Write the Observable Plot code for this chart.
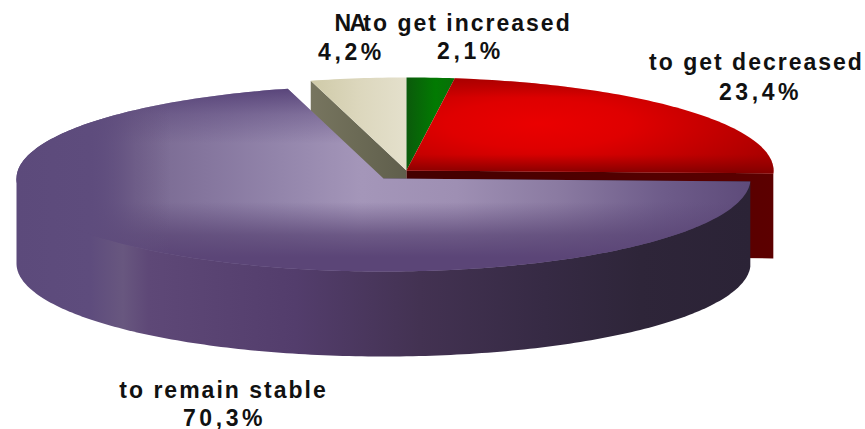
<!DOCTYPE html>
<html>
<head>
<meta charset="utf-8">
<script src="https://cdn.jsdelivr.net/npm/d3@7"></script>
<script src="https://cdn.jsdelivr.net/npm/@observablehq/plot@0.6"></script>
<style>
  html, body { margin: 0; padding: 0; background: #fff; }
  svg { display: block; }
</style>
</head>
<body>
<div id="chart"></div>
<script>
// Shares of the expected trend, clockwise from twelve o'clock.
const categories = ["to get increased", "to get decreased", "to remain stable", "NA"];
const shares = [2.1, 23.4, 70.3, 4.2];

// Ellipse of the tilted disc, in pixels of the plot's identity scales.
const rx = 367, ry = 93, depth = 85;
const upperCentre = {cx: 406, cy: 170};   // pulled-out group of three slices
const lowerCentre = {cx: 383, cy: 178};   // the large slice

const percentLabel = (v) => v.toFixed(1).replace(".", ",") + "%";

// Cumulative start and end angle of every slice, in degrees.
let running = 0;
const slices = categories.map((name, i) => {
  const start = running;
  running += (shares[i] / 100) * 360;
  return {name, value: shares[i], start, end: running};
});
const byName = Object.fromEntries(slices.map((s) => [s.name, s]));

const rim = (c, deg, drop = 0) => {
  const a = (deg * Math.PI) / 180;
  return {x: c.cx + rx * Math.sin(a), y: c.cy - ry * Math.cos(a) + drop};
};
const arc = (c, from, to, drop = 0) =>
  d3.range(0, 1.0001, 1 / Math.max(2, Math.ceil(Math.abs(to - from)))).map((t) => rim(c, from + (to - from) * t, drop));

// Flat top of a slice.
const sector = (c, s) => [{x: c.cx, y: c.cy}, ...arc(c, s.start, s.end)];
// Curved outer wall of a slice; it runs on under the top face so no seam shows.
const wall = (c, from, to) => [...arc(c, to, from, depth), rim(c, from), {x: c.cx, y: c.cy}, rim(c, to)];
// Straight cut face from the centre out to the rim.
const cut = (c, deg) => {
  const r = rim(c, deg);
  return [{x: c.cx, y: c.cy}, r, {x: r.x, y: r.y + depth}, {x: c.cx, y: c.cy + depth}];
};

const polygon = (points, fill) => Plot.line(points, {x: "x", y: "y", fill, stroke: "none"});

const stops = (list) => list.map(([o, c, a = 1]) => `<stop offset="${o}" stop-color="${c}" stop-opacity="${a}"/>`).join("");

// Shading of the disc's faces.
const gradients = () => d3.create("svg:defs").html(`
  <linearGradient id="purpleTop" x1="0" x2="1" y1="0" y2="0">${stops([
    [0, "#5c4a7b"], [0.1, "#604e80"], [0.16, "#77678f"], [0.26, "#85769e"], [0.36, "#9385ab"],
    [0.47, "#a496b9"], [0.6, "#9e8fb3"], [0.74, "#8a7aa1"], [0.88, "#6e5c8a"], [1, "#5e4b7a"]
  ])}</linearGradient>
  <linearGradient id="purpleShade" x1="0" x2="0" y1="0" y2="1">${stops([
    [0, "#4f3a72", 0.85], [0.14, "#4f3a72", 0.35], [0.3, "#4f3a72", 0], [0.62, "#5a4575", 0],
    [0.8, "#5a4575", 0.75], [0.92, "#5b4577", 1], [1, "#5b4577", 1]
  ])}</linearGradient>
  <linearGradient id="purpleEdge" x1="0" x2="1" y1="0" y2="0">${stops([
    [0, "#5c4a7b", 1], [0.1, "#5e4c7d", 1], [0.21, "#64527f", 0]
  ])}</linearGradient>
  <linearGradient id="purpleWall" x1="0" x2="1" y1="0" y2="0">${stops([
    [0, "#5c4a7b"], [0.1, "#5e4c7d"], [0.145, "#68577f"], [0.18, "#5e4877"], [0.38, "#533d6c"],
    [0.55, "#433252"], [0.72, "#362a44"], [0.85, "#2e2539"], [1, "#2b2336"]
  ])}</linearGradient>
  <radialGradient id="redTop" cx="0.36" cy="0.48" r="0.72">${stops([
    [0, "#ea0000"], [0.35, "#df0000"], [0.75, "#bd0000"], [1, "#a80000"]
  ])}</radialGradient>
  <linearGradient id="redShade" x1="0" x2="0" y1="0" y2="1">${stops([
    [0, "#900000", 0.45], [0.2, "#900000", 0], [0.8, "#900000", 0], [1, "#7a0000", 0.85]
  ])}</linearGradient>
  <linearGradient id="redCut" x1="0" x2="1" y1="0" y2="0">${stops([[0, "#430000"], [1, "#5c0000"]])}</linearGradient>
  <linearGradient id="greenTop" x1="0" x2="1" y1="0" y2="0">${stops([[0, "#0b5a0b"], [0.6, "#027a02"], [1, "#087008"]])}</linearGradient>
  <linearGradient id="naTop" x1="0" x2="1" y1="0" y2="0">${stops([[0, "#cfcaa8"], [0.5, "#dcd7bd"], [1, "#e4e0cc"]])}</linearGradient>
  <linearGradient id="naCut" x1="0" x2="1" y1="0" y2="0">${stops([[0, "#77755f"], [0.5, "#6b6a55"], [1, "#5f5e4c"]])}</linearGradient>
`).node();

const decreased = byName["to get decreased"];
const increased = byName["to get increased"];
const stable = byName["to remain stable"];
const na = byName["NA"];

// Text lines: centre and baseline of each, with its tracking.
const labelLines = [
  {text: "NA", x: 349, y: 30, spacing: "-1.5px"},
  {text: percentLabel(na.value), x: 351, y: 59, spacing: "3.6px"},
  {text: "to get increased", x: 467, y: 30, spacing: "2px"},
  {text: percentLabel(increased.value), x: 470, y: 58, spacing: "3.6px"},
  {text: "to get decreased", x: 756, y: 69, spacing: "2px"},
  {text: percentLabel(decreased.value), x: 760, y: 99, spacing: "3.6px"},
  {text: "to remain stable", x: 223, y: 397, spacing: "2px"},
  {text: percentLabel(stable.value), x: 224, y: 425, spacing: "3.6px"}
];

const plot = Plot.plot({
  width: 865,
  height: 429,
  margin: 0,
  x: {domain: [0, 865], range: [0, 865], axis: null},
  y: {domain: [0, 429], range: [0, 429], axis: null},
  marks: [
    gradients,
    polygon(cut(upperCentre, na.start), "url(#naCut)"),
    polygon(sector(upperCentre, na), "url(#naTop)"),
    polygon(sector(upperCentre, increased), "url(#greenTop)"),
    polygon(cut(upperCentre, decreased.end), "url(#redCut)"),
    polygon(sector(upperCentre, decreased), "url(#redTop)"),
    polygon(sector(upperCentre, decreased), "url(#redShade)"),
    polygon(wall(lowerCentre, stable.start, 270), "url(#purpleWall)"),
    polygon(sector(lowerCentre, stable), "url(#purpleTop)"),
    polygon(sector(lowerCentre, stable), "url(#purpleShade)"),
    polygon(sector(lowerCentre, stable), "url(#purpleEdge)"),
    ...labelLines.map((d) => Plot.text([d], {
      x: "x", y: "y", text: "text", textAnchor: "middle", lineAnchor: "bottom",
      fontFamily: "Liberation Sans", fontSize: 23, fontWeight: "bold", fill: "#111",
      render(index, scales, values, dimensions, context, next) {
        const g = next(index, scales, values, dimensions, context);
        g.style.letterSpacing = d.spacing;
        return g;
      }
    }))
  ]
});
document.getElementById("chart").append(plot);
</script>
</body>
</html>
